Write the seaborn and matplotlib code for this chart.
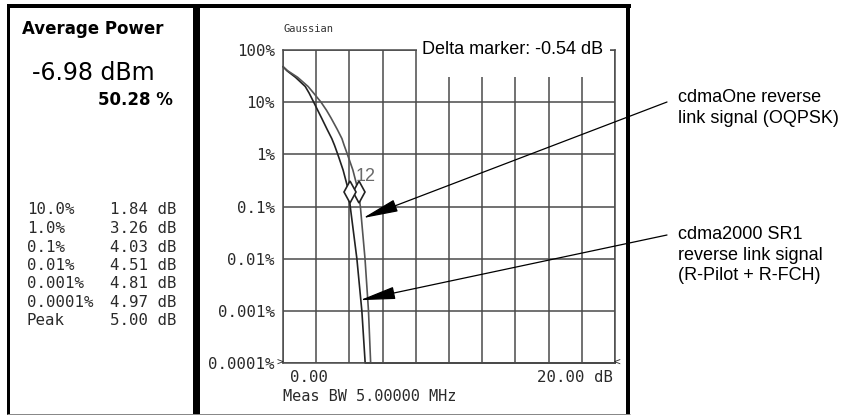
import numpy as np
import pandas as pd
import matplotlib
matplotlib.use("Agg")
import matplotlib.pyplot as plt
from matplotlib.lines import Line2D
from matplotlib.patches import Rectangle
import seaborn as sns

# ---------------- data ----------------
probability_pct = [48, 40, 30, 20, 15, 10, 7, 5, 3, 2, 1.5, 1, 0.5, 0.2, 0.1,
                   0.01, 0.001, 0.0001, 0.0001]
cdma2000_db = [0.0, 0.24, 0.75, 1.34, 1.57, 1.85, 2.09, 2.32, 2.66, 2.94, 3.10, 3.30,
               3.62, 3.95, 4.05, 4.45, 4.75, 4.95, 20.0]
cdmaone_db = [0.0, 0.28, 0.88, 1.51, 1.84, 2.29, 2.62, 2.89, 3.27, 3.55, 3.68, 3.88,
              4.21, 4.53, 4.66, 4.94, 5.15, 5.28, 20.0]

ytick_values = [100, 10, 1, 0.1, 0.01, 0.001, 0.0001]
ytick_labels = ["100%", "10%", "1%", "0.1%", "0.01%", "0.001%", "0.0001%"]
x_grid = list(range(0, 21, 2))

table_pct = ["10.0%", "1.0%", "0.1%", "0.01%", "0.001%", "0.0001%", "Peak"]
table_db = ["1.84 dB", "3.26 dB", "4.03 dB", "4.51 dB", "4.81 dB", "4.97 dB", "5.00 dB"]

marker_pct = [0.19, 0.19]
marker_db = [4.56, 4.02]          # marker 1 (cdmaOne), marker 2 (cdma2000)

cdmaone_arrow_tip = (4.82, 0.06)
cdma2000_arrow_tip = (4.64, 0.0016)

avg_title = "Average Power"
avg_power = "-6.98 dBm"
avg_pct = "50.28 %"
delta_text = "Delta marker: -0.54 dB"
x_left_label = "0.00"
x_right_label = "20.00 dB"
bw_label = "Meas BW 5.00000 MHz"
trace_title = "Gaussian"
cdmaone_label = "cdmaOne reverse\nlink signal (OQPSK)"
cdma2000_label = "cdma2000 SR1\nreverse link signal\n(R-Pilot + R-FCH)"

# ---------------- figure ----------------
sns.set_style("white")
plt.rcParams["font.family"] = ["DejaVu Sans"]

W, H = 845, 415
fig = plt.figure(figsize=(W / 100, H / 100), dpi=100)
fig.patch.set_facecolor("white")


def fx(px):
    return px / W


def fy(py):
    return 1 - py / H


ax = fig.add_axes([fx(283), fy(363), (615 - 283) / W, (363 - 50) / H])

df = pd.concat([
    pd.DataFrame({"db": cdma2000_db, "prob": probability_pct, "signal": "cdma2000"}),
    pd.DataFrame({"db": cdmaone_db, "prob": probability_pct, "signal": "cdmaOne"}),
], ignore_index=True)

sns.lineplot(data=df, x="db", y="prob", hue="signal", units="signal",
             estimator=None, sort=False, legend=False,
             palette={"cdma2000": "#222222", "cdmaOne": "#555555"},
             linewidth=1.2, ax=ax)
for ln in ax.lines:
    ln.set_clip_on(False)
    ln.set_zorder(2.2)

ax.set_yscale("log")
ax.set_xlim(0, 20)
ax.set_ylim(0.0001, 100)
ax.set_xticks(x_grid)
ax.set_xticklabels([])
ax.set_yticks(ytick_values)
ax.set_yticklabels(ytick_labels, fontfamily="DejaVu Sans Mono", fontsize=11.3, color="#2a2a2a")
ax.yaxis.set_minor_locator(matplotlib.ticker.NullLocator())
ax.tick_params(length=0, pad=6)
ax.grid(True, color="#4a4a4a", linewidth=1.1)
ax.set_axisbelow(True)
ax.set_xlabel("")
ax.set_ylabel("")
for s in ax.spines.values():
    s.set_color("#4a4a4a")
    s.set_linewidth(1.1)
    s.set_visible(True)

# white box behind the delta-marker readout (hides top border/grid there)
ax.add_patch(Rectangle((8.07, 30.4), 19.7 - 8.07, 200, transform=ax.transData,
                       facecolor="white", edgecolor="none", zorder=2.6, clip_on=False))

# markers
ax.plot(marker_db, marker_pct, linestyle="none", marker="d", markersize=11,
        markerfacecolor="white", markeredgecolor="#222222", markeredgewidth=1.2,
        zorder=4, clip_on=False)
fig.text(fx(366), fy(176), "12", family=["Liberation Sans Narrow", "Liberation Sans"],
         fontsize=13, color="#6a6a6a", ha="center", va="center")

# arrows
for tip, start in [(cdmaone_arrow_tip, (667, 102)), (cdma2000_arrow_tip, (667, 235))]:
    ax.annotate("", xy=tip, xycoords="data", xytext=(fx(start[0]), fy(start[1])),
                textcoords="figure fraction",
                arrowprops=dict(arrowstyle="-|>,head_length=1.7,head_width=0.3",
                                color="black", lw=0.9, shrinkA=0, shrinkB=0,
                                mutation_scale=13),
                zorder=5, annotation_clip=False)

mono = "DejaVu Sans Mono"
txt_col = "#2a2a2a"
narrow = ["Liberation Sans Narrow", "Liberation Sans"]

# texts in the plot panel
fig.text(fx(283), fy(29), trace_title, family=mono, fontsize=7.5, color="#333333",
         ha="left", va="center")
fig.text(fx(280), fy(363), ">", family=mono, fontsize=8, color=txt_col, ha="center", va="center")
fig.text(fx(617), fy(363), "<", family=mono, fontsize=8, color=txt_col, ha="center", va="center")
fig.text(fx(290), fy(377), x_left_label, family=mono, fontsize=11.3, color=txt_col,
         ha="left", va="center")
fig.text(fx(613), fy(377), x_right_label, family=mono, fontsize=11.3, color=txt_col,
         ha="right", va="center")
fig.text(fx(283), fy(396), bw_label, family=mono, fontsize=11.0, color=txt_col,
         ha="left", va="center")
fig.text(fx(422), fy(50), delta_text, family=narrow, fontsize=13, color="black",
         ha="left", va="center", zorder=6)

# left panel texts
fig.text(fx(22), fy(29), avg_title, fontsize=12, fontweight="bold", color="black",
         ha="left", va="center")
fig.text(fx(32), fy(73), avg_power, fontsize=17, color="black", ha="left", va="center")
fig.text(fx(173), fy(100), avg_pct, fontsize=12, fontweight="bold", color="black",
         ha="right", va="center")
row_y = [210, 228.5, 247, 265, 283.5, 302, 320]
for yy, a, b in zip(row_y, table_pct, table_db):
    fig.text(fx(27), fy(yy), a, family=mono, fontsize=11.3, color=txt_col, ha="left", va="center")
    fig.text(fx(110), fy(yy), b, family=mono, fontsize=11.3, color=txt_col, ha="left", va="center")

# annotation labels
fig.text(fx(678), fy(108), cdmaone_label, family=narrow, fontsize=13, color="black",
         ha="left", va="center", linespacing=1.3)
fig.text(fx(678), fy(255), cdma2000_label, family=narrow, fontsize=13, color="black",
         ha="left", va="center", linespacing=1.3)

# instrument screen frame
def frame_line(x0, y0, x1, y1, lw_px, color="black"):
    fig.add_artist(Line2D([fx(x0), fx(x1)], [fy(y0), fy(y1)], transform=fig.transFigure,
                          color=color, linewidth=lw_px * 0.72, solid_capstyle="butt"))

frame_line(7, 6, 631, 6, 4)
frame_line(8.5, 4, 8.5, 415, 3)
frame_line(196.5, 4, 196.5, 415, 7)
frame_line(628, 4, 628, 414, 4)
frame_line(7, 414, 630, 414, 1, color="#888888")

fig.savefig("out.png", dpi=100, facecolor="white")
